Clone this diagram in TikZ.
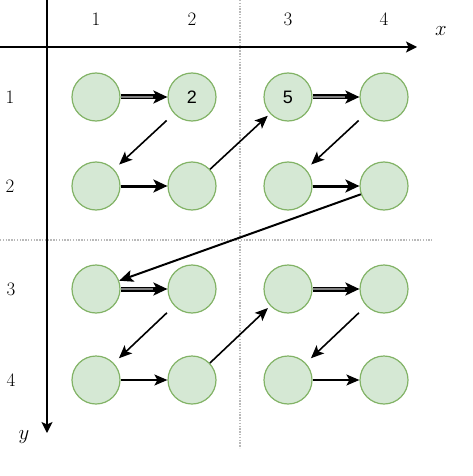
\documentclass[tikz,border=0pt]{standalone}
\usepackage{fontspec}
\newfontfamily\lsans{Liberation Sans}
\usetikzlibrary{arrows.meta}
\definecolor{cfill}{HTML}{D5E8D4}
\definecolor{cdraw}{HTML}{82B366}
\begin{document}
\begin{tikzpicture}[x=1pt,y=-1pt,
  cell/.style={circle,minimum size=48pt,inner sep=0pt,fill=cfill,draw=cdraw,line width=1.2pt,font=\lsans\fontsize{18}{21}\selectfont},
  lab/.style={inner sep=0pt,font=\fontsize{19}{22}\selectfont},
  axlab/.style={inner sep=0pt,font=\fontsize{21}{24}\selectfont},
  grid/.style={gray!55,line width=1.4pt,dash pattern=on 1.4pt off 1.4pt},
  axis/.style={line width=1.4pt,-{Stealth[length=11pt,width=11pt,inset=2.5pt]}},
  bigtip/.style={-{Stealth[length=14pt,width=13pt,inset=3.5pt]}},
  dblout/.style={bigtip,line width=5pt},
  dblin/.style={black!50,line width=1.8pt,shorten >=14pt},
  thk/.style={bigtip,line width=3pt},
  thn/.style={-{Stealth[length=13pt,width=11pt,inset=3pt]},line width=1.6pt},
  mid/.style={-{Stealth[length=14pt,width=12pt,inset=3pt]},line width=2pt},
  gapd/.style={shorten <=10pt,shorten >=7pt}]
\useasboundingbox (0,0) rectangle (472,476);
% dotted separators
\coordinate (gv1) at (240,0);
\coordinate (gv2) at (240,448);
\coordinate (gh1) at (0,240);
\coordinate (gh2) at (432,240);
\draw[grid] (gv1) -- (gv2);
\draw[grid] (gh1) -- (gh2);
% axes
\coordinate (xs) at (0,47);
\coordinate (xe) at (417,47);
\coordinate (ys) at (47,0);
\coordinate (ye) at (47,433);
\draw[axis] (xs) -- (xe);
\draw[axis] (ys) -- (ye);
\node[axlab] (xl) at (441,31) {$x$};
\node[axlab] (yl) at (24,437) {$y$};
% labels
\node[lab] (c1) at (96,19) {1};
\node[lab] (c2) at (192,19) {2};
\node[lab] (c3) at (288,19) {3};
\node[lab] (c4) at (384,19) {4};
\node[lab] (r1) at (10,97) {1};
\node[lab] (r2) at (10,186) {2};
\node[lab] (r3) at (11,289) {3};
\node[lab] (r4) at (11,380) {4};
% cells
\node[cell] (n11) at (96,97) {};
\node[cell] (n12) at (192,97) {2};
\node[cell] (n13) at (288,97) {5};
\node[cell] (n14) at (384,97) {};
\node[cell] (n21) at (96,186) {};
\node[cell] (n22) at (192,186) {};
\node[cell] (n23) at (288,186) {};
\node[cell] (n24) at (384,186) {};
\node[cell] (n31) at (96,289) {};
\node[cell] (n32) at (192,289) {};
\node[cell] (n33) at (288,289) {};
\node[cell] (n34) at (384,289) {};
\node[cell] (n41) at (96,380) {};
\node[cell] (n42) at (192,380) {};
\node[cell] (n43) at (288,380) {};
\node[cell] (n44) at (384,380) {};
% arrows
\draw[dblout] (n11) -- (n12); \draw[dblin] (n11) -- (n12);
\draw[thn,gapd] (n12) -- (n21);
\draw[thk] (n21) -- (n22);
\draw[thn,shorten >=3pt] (n22) -- (n13);
\draw[dblout] (n13) -- (n14); \draw[dblin] (n13) -- (n14);
\draw[thn,gapd] (n14) -- (n23);
\draw[thk] (n23) -- (n24);
\draw[mid] (n24) -- (n31);
\draw[dblout] (n31) -- (n32); \draw[dblin] (n31) -- (n32);
\draw[thn,gapd] (n32) -- (n41);
\draw[thn] (n41) -- (n42);
\draw[thn,shorten >=3pt] (n42) -- (n33);
\draw[dblout] (n33) -- (n34); \draw[dblin] (n33) -- (n34);
\draw[thn,gapd] (n34) -- (n43);
\draw[thn] (n43) -- (n44);
\end{tikzpicture}
\end{document}
